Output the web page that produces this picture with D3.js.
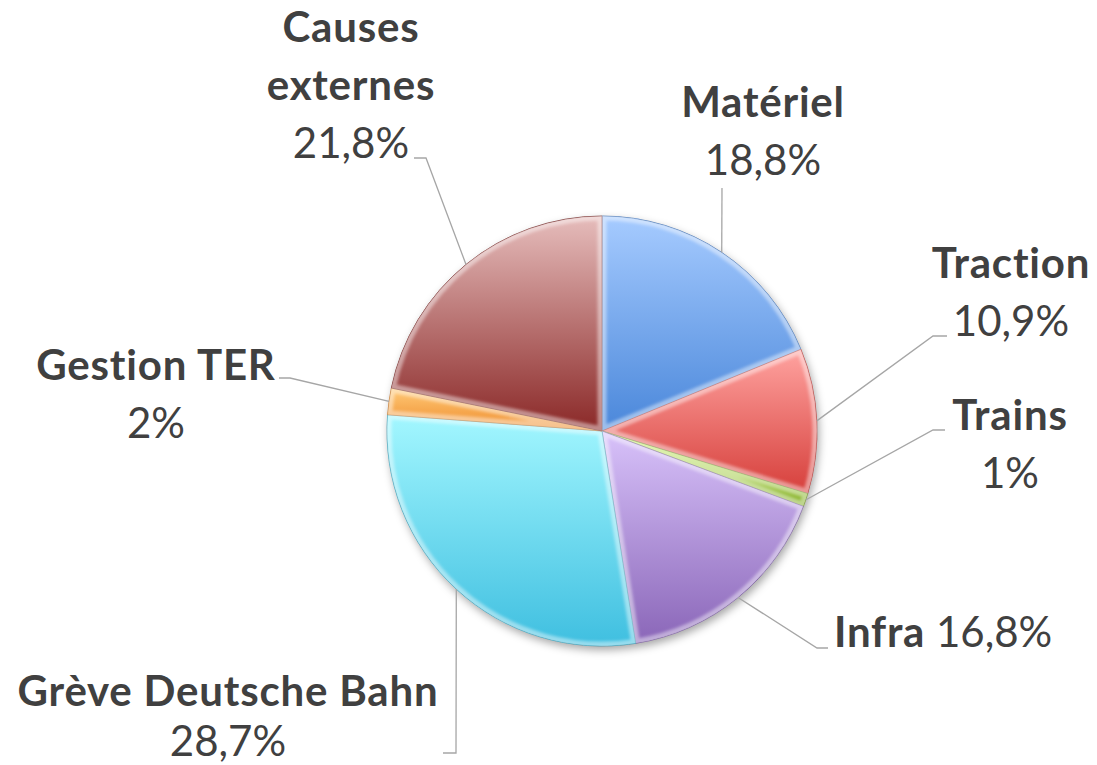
<!DOCTYPE html>
<html>
<head>
<meta charset="utf-8">
<script src="https://cdn.jsdelivr.net/npm/d3@7"></script>
<style>
  body { margin: 0; background: #fff; }
  svg { display: block; }
  text { font-family: Lato, "Noto Sans", sans-serif; fill: #404040; }
</style>
</head>
<body>
<script>
// data
var categories = ["Matériel", "Traction", "Trains", "Infra", "Grève Deutsche Bahn", "Gestion TER", "Causes externes"];
var values = [18.8, 10.9, 1, 16.8, 28.7, 2, 21.8];
var nameLines = [["Matériel"], ["Traction"], ["Trains"], ["Infra"], ["Grève Deutsche Bahn"], ["Gestion TER"], ["Causes", "externes"]];

// top / bottom colours of each slice gradient
var paletteTop = ["#a6cbff", "#ffa3a0", "#d2f57a", "#d8c2fa", "#a3f7ff", "#ffca78", "#e6bdbc"];
var paletteBot = ["#4a87da", "#d63f3b", "#86b02c", "#8a66b8", "#3fbfe0", "#ee8a2a", "#8a2827"];

// label layout: x, first baseline, anchor ; leader elbow and end
var labelLayout = [
  {x: 763, y: 117, anchor: "middle", elbow: [722, 188], end: [722, 188]},
  {x: 1011, y: 278, anchor: "middle", elbow: [933, 336], end: [947, 336]},
  {x: 1010, y: 430, anchor: "middle", elbow: [933, 430], end: [945, 430]},
  {x: 834, y: 647, anchor: "start", inline: true, elbow: [817, 648], end: [828, 648]},
  {x: 228, y: 706, anchor: "middle", lineGap: 50, elbow: [456, 753], end: [443, 753]},
  {x: 156, y: 380, anchor: "middle", elbow: [290, 378], end: [279, 378]},
  {x: 351, y: 42, anchor: "middle", elbow: [426, 158], end: [414, 158]}
];

var width = 1097, height = 765;
var cx = 602, cy = 431, radius = 215;

var pct = function(v) { return String(v).replace(".", ",") + "%"; };

var svg = d3.select("body").append("svg")
    .attr("width", width)
    .attr("height", height);

var defs = svg.append("defs");

var shadow = defs.append("filter").attr("id", "shadow")
    .attr("x", "-20%").attr("y", "-20%").attr("width", "140%").attr("height", "140%");
shadow.append("feDropShadow")
    .attr("dx", 2).attr("dy", 4).attr("stdDeviation", 4)
    .attr("flood-color", "#000").attr("flood-opacity", 0.35);

var soft = defs.append("filter").attr("id", "soft");
soft.append("feGaussianBlur").attr("stdDeviation", 1.6);

categories.forEach(function(c, i) {
  var g = defs.append("linearGradient").attr("id", "grad" + i)
      .attr("x1", 0).attr("y1", 0).attr("x2", 0).attr("y2", 1);
  g.append("stop").attr("offset", "0%").attr("stop-color", paletteTop[i]);
  g.append("stop").attr("offset", "100%").attr("stop-color", paletteBot[i]);
});

var pie = d3.pie().sort(null).value(function(d) { return d; });
var arcs = pie(values);

var arc = d3.arc().innerRadius(0).outerRadius(radius);

arcs.forEach(function(a, i) {
  defs.append("clipPath").attr("id", "clip" + i)
    .append("path")
    .attr("transform", "translate(" + cx + "," + cy + ")")
    .attr("d", arc(a));
});

var pieG = svg.append("g")
    .attr("transform", "translate(" + cx + "," + cy + ")");

// shadow below the whole pie
pieG.append("g").attr("filter", "url(#shadow)")
  .selectAll("path")
  .data(arcs)
  .enter()
  .append("path")
  .attr("d", arc)
  .style("fill", function(d, i) { return paletteBot[i]; });

var slices = pieG.selectAll(".slice")
    .data(arcs)
    .enter()
    .append("g")
    .attr("class", "slice");

slices.append("path")
    .attr("d", arc)
    .style("fill", function(d, i) { return "url(#grad" + i + ")"; });

// bevel: soft light rim inside each slice
svg.selectAll(".bevel")
    .data(arcs)
    .enter()
    .append("g")
    .attr("class", "bevel")
    .attr("clip-path", function(d, i) { return "url(#clip" + i + ")"; })
    .append("path")
    .attr("transform", "translate(" + cx + "," + cy + ")")
    .attr("d", arc)
    .attr("filter", "url(#soft)")
    .style("fill", "none")
    .style("stroke", "#fff")
    .style("stroke-opacity", 0.45)
    .style("stroke-width", 9);

slices.append("path")
    .attr("d", arc)
    .style("fill", "none")
    .style("stroke", function(d, i) { return d3.color(paletteBot[i]).darker(0.8); })
    .style("stroke-opacity", 0.7)
    .style("stroke-width", 1);

// leader lines
var edge = d3.arc().innerRadius(radius).outerRadius(radius);
svg.append("g").selectAll("polyline")
    .data(arcs)
    .enter()
    .append("polyline")
    .attr("points", function(d, i) {
      var p = edge.centroid(d);
      var L = labelLayout[i];
      return [[cx + p[0], cy + p[1]], L.elbow, L.end].map(function(q) { return q.join(","); }).join(" ");
    })
    .style("fill", "none")
    .style("stroke", "#a6a6a6")
    .style("stroke-width", 1.3);

// labels
var boldSize = 42, pctSize = 42;
var labels = svg.append("g").selectAll("text")
    .data(arcs)
    .enter()
    .append("text")
    .attr("text-anchor", function(d, i) { return labelLayout[i].anchor; });

function boldSpan(sel) {
  return sel.style("font-weight", "bold")
    .style("font-size", boldSize + "px")
    .style("letter-spacing", "0.8px");
}

labels.each(function(d, i) {
  var t = d3.select(this);
  var L = labelLayout[i];
  var gap = L.lineGap || 58;
  if (L.inline) {
    boldSpan(t.append("tspan").attr("x", L.x).attr("y", L.y))
      .text(nameLines[i][0]);
    t.append("tspan")
      .style("font-size", pctSize + "px")
      .text(" " + pct(values[i]));
    return;
  }
  nameLines[i].forEach(function(line, k) {
    boldSpan(t.append("tspan").attr("x", L.x).attr("y", L.y + k * gap))
      .text(line);
  });
  t.append("tspan").attr("x", L.x).attr("y", L.y + nameLines[i].length * gap)
    .style("font-size", pctSize + "px")
    .text(pct(values[i]));
});
</script>
</body>
</html>
